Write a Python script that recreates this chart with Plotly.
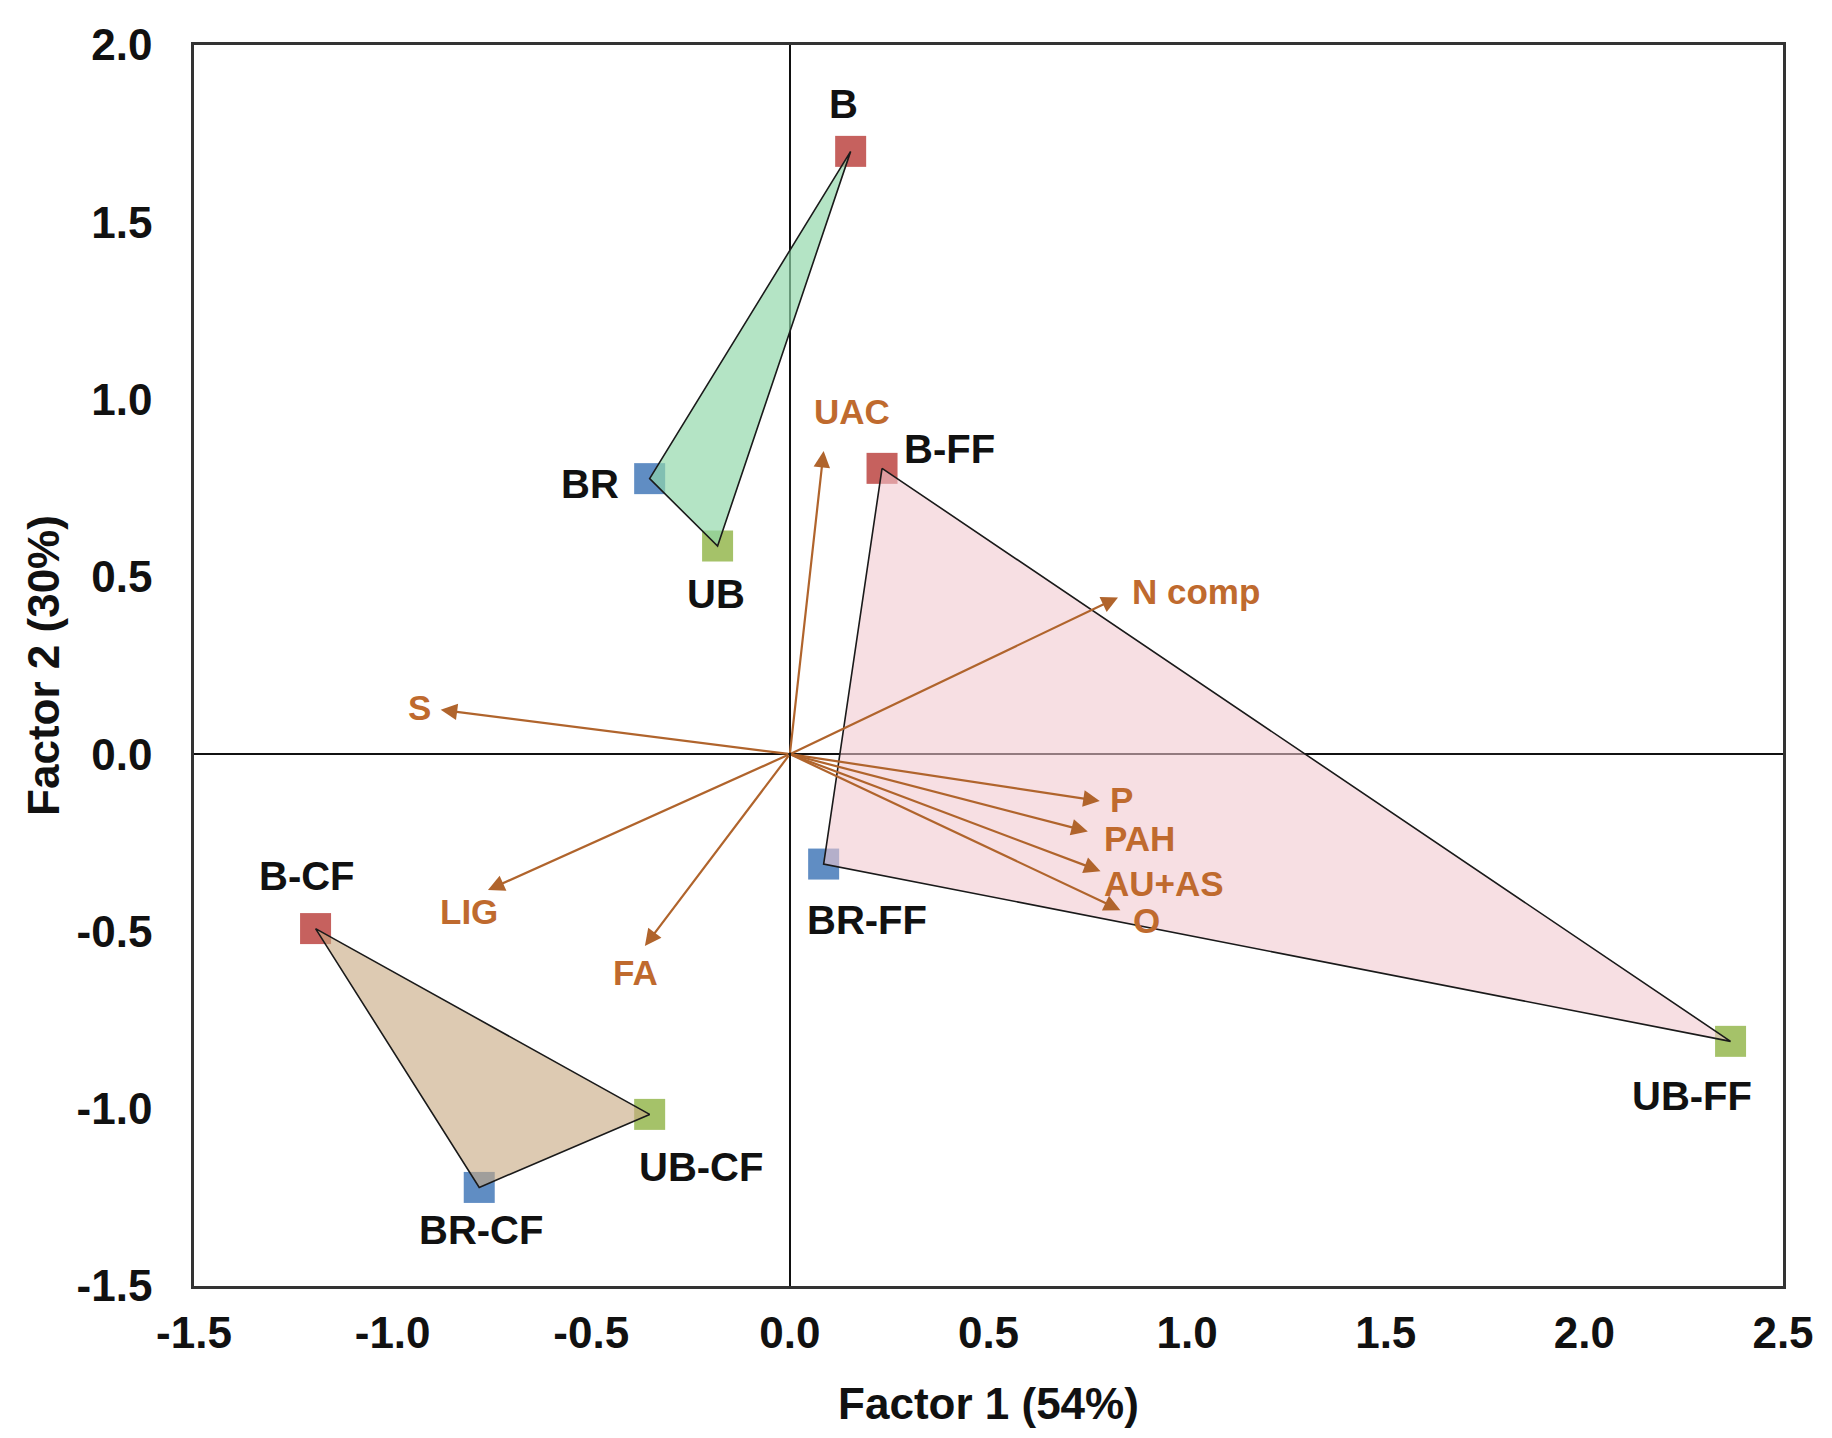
import plotly.graph_objects as go

# ---- data ----
samples = ["B", "BR", "UB", "B-FF", "BR-FF", "UB-FF", "B-CF", "BR-CF", "UB-CF"]
factor1 = [0.153, -0.353, -0.182, 0.232, 0.085, 2.368, -1.194, -0.782, -0.353]
factor2 = [1.700, 0.777, 0.587, 0.806, -0.310, -0.810, -0.492, -1.222, -1.016]
sample_type = ["B", "BR", "UB", "B", "BR", "UB", "B", "BR", "UB"]
groups = [["B", "BR", "UB"], ["B-FF", "BR-FF", "UB-FF"], ["B-CF", "BR-CF", "UB-CF"]]

variables = ["UAC", "N comp", "S", "LIG", "FA", "P", "PAH", "AU+AS", "O"]
var_f1 = [0.085, 0.826, -0.879, -0.760, -0.365, 0.780, 0.750, 0.782, 0.832]
var_f2 = [0.855, 0.442, 0.125, -0.383, -0.541, -0.132, -0.218, -0.330, -0.440]

x_ticks = [-1.5, -1.0, -0.5, 0.0, 0.5, 1.0, 1.5, 2.0, 2.5]
y_ticks = [-1.5, -1.0, -0.5, 0.0, 0.5, 1.0, 1.5, 2.0]

# ---- styles ----
FONT = "Liberation Sans, Arial, sans-serif"
type_color = {"B": "#C0504D", "BR": "#4F81BD", "UB": "#9BBB59"}
group_fill = ["rgba(145,215,170,0.68)", "rgba(242,200,206,0.58)", "rgba(200,170,130,0.62)"]
arrow_color = "#B0642C"
label_color = "#BF6A2E"
# label offsets (px) for samples and variables
sample_offsets = {
    "B": (-7, 47, "center"), "BR": (-60, -5, "center"), "UB": (-2, -48, "center"),
    "B-FF": (20, 19, "left"), "BR-FF": (43, -56, "center"), "UB-FF": (-39, -55, "center"),
    "B-CF": (-9, 53, "center"), "BR-CF": (2, -43, "center"), "UB-CF": (51, -53, "center"),
}
var_offsets = {
    "UAC": (28, 39, "center"), "N comp": (12, 6, "left"), "S": (-21, 2, "center"),
    "LIG": (-19, -22, "center"), "FA": (-9, -27, "center"), "P": (8, 1, "left"),
    "PAH": (14, -7, "left"), "AU+AS": (1, -12, "left"), "O": (11, -10, "left"),
}

fig = go.Figure()

# markers (drawn first, polygons overlay them)
for t in ["B", "BR", "UB"]:
    xs = [x for x, s in zip(factor1, sample_type) if s == t]
    ys = [y for y, s in zip(factor2, sample_type) if s == t]
    fig.add_trace(go.Scatter(x=xs, y=ys, mode="markers",
                             marker=dict(symbol="square", size=31, color=type_color[t],
                                         opacity=0.9, line=dict(width=0)),
                             showlegend=False, hoverinfo="skip"))

# group polygons
for g, fillc in zip(groups, group_fill):
    idx = [samples.index(n) for n in g]
    xs = [factor1[i] for i in idx] + [factor1[idx[0]]]
    ys = [factor2[i] for i in idx] + [factor2[idx[0]]]
    fig.add_trace(go.Scatter(x=xs, y=ys, mode="lines", fill="toself", fillcolor=fillc,
                             line=dict(color="#1a1a1a", width=1.6),
                             showlegend=False, hoverinfo="skip"))

annotations = []
# variable arrows
for name, vx, vy in zip(variables, var_f1, var_f2):
    annotations.append(dict(x=vx, y=vy, ax=0, ay=0, xref="x", yref="y", axref="x", ayref="y",
                            text="", showarrow=True, arrowhead=2, arrowsize=1.5,
                            arrowwidth=2.2, arrowcolor=arrow_color))
    dx, dy, anc = var_offsets[name]
    annotations.append(dict(x=vx, y=vy, xref="x", yref="y", text="<b>" + name + "</b>",
                            showarrow=False, xshift=dx, yshift=dy, xanchor=anc,
                            font=dict(family=FONT, size=35, color=label_color)))

# sample labels
for name, sx, sy in zip(samples, factor1, factor2):
    dx, dy, anc = sample_offsets[name]
    annotations.append(dict(x=sx, y=sy, xref="x", yref="y", text="<b>" + name + "</b>",
                            showarrow=False, xshift=dx, yshift=dy, xanchor=anc,
                            font=dict(family=FONT, size=40, color="#111111")))

fig.update_layout(
    width=1832, height=1438,
    margin=dict(l=186, r=57, t=28, b=160),
    paper_bgcolor="white", plot_bgcolor="white",
    annotations=annotations,
    font=dict(family=FONT, color="#111111"),
)
fig.update_xaxes(range=[-1.5, 2.5], tickvals=x_ticks, ticktext=[f"<b>{v:.1f}</b>" for v in x_ticks],
                 showgrid=False, zeroline=True, zerolinecolor="#111111", zerolinewidth=1.6,
                 showline=True, linecolor="#333333", linewidth=2.5, mirror=True,
                 ticks="", ticklabelstandoff=6,
                 tickfont=dict(family=FONT, size=44, color="#111111"),
                 title=dict(text="<b>Factor 1 (54%)</b>", standoff=33,
                            font=dict(family=FONT, size=44, color="#111111")))
fig.update_yaxes(range=[-1.5, 2.0], tickvals=y_ticks, ticktext=[f"<b>{v:.1f}</b>" for v in y_ticks],
                 showgrid=False, zeroline=True, zerolinecolor="#111111", zerolinewidth=1.6,
                 showline=True, linecolor="#333333", linewidth=2.5, mirror=True,
                 ticks="", ticklabelstandoff=30,
                 tickfont=dict(family=FONT, size=44, color="#111111"),
                 title=dict(text="<b>Factor 2 (30%)</b>", standoff=4,
                            font=dict(family=FONT, size=44, color="#111111")))

fig.write_html("out.html")
